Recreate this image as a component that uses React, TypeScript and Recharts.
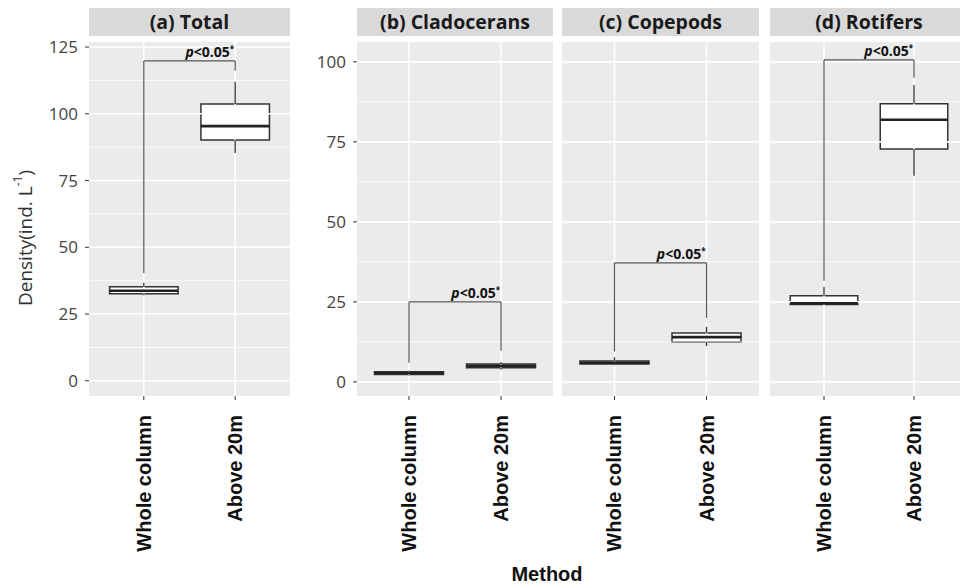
import {
  ComposedChart,
  ReferenceArea,
  ReferenceDot,
  ReferenceLine,
  Scatter,
  XAxis,
  YAxis,
} from "recharts";

// categories on the x axis of every panel
const CATEGORIES = ["Whole column", "Above 20m"];
const PANEL_TITLES = ["(a) Total", "(b) Cladocerans", "(c) Copepods", "(d) Rotifers"];

// box stats per category: [lower whisker, q1, median, q3, upper whisker]
const TOTAL_STATS = [
  [32.0, 32.6, 33.7, 35.2, 36.7],
  [85.3, 90.2, 95.4, 103.7, 111.9],
];
const CLADOCERAN_STATS = [
  [2.0, 2.3, 2.8, 3.2, 3.6],
  [3.8, 4.4, 5.0, 5.6, 6.2],
];
const COPEPOD_STATS = [
  [5.2, 5.6, 6.0, 6.5, 7.7],
  [11.2, 12.5, 14.0, 15.3, 17.2],
];
const ROTIFER_STATS = [
  [24.0, 24.2, 24.6, 26.9, 29.7],
  [64.4, 72.8, 81.9, 86.9, 92.8],
];

// significance brackets: top height, bottom of left leg, bottom of right leg
const BRACKET_TOP = [119.8, 25.0, 37.2, 100.6];
const BRACKET_LEFT_END = [40.4, 6.0, 9.5, 31.6];
const BRACKET_RIGHT_END = [116.2, 9.7, 20.0, 95.0];

const Y_TICKS_TOTAL = [0, 25, 50, 75, 100, 125];
const Y_TICKS_GROUP = [0, 25, 50, 75, 100];
const MINOR_TOTAL = [12.5, 37.5, 62.5, 87.5, 112.5];
const MINOR_GROUP = [12.5, 37.5, 62.5, 87.5];

const ALL_STATS = [TOTAL_STATS, CLADOCERAN_STATS, COPEPOD_STATS, ROTIFER_STATS];

const LAYOUT = [
  { left: 0, width: 300, mLeft: 39, mRight: 10, yWidth: 50, xDomain: [0.4, 2.6], yDomain: [-5.7, 126.9], yTicks: Y_TICKS_TOTAL, minor: MINOR_TOTAL, showY: true },
  { left: 300, width: 258, mLeft: 12, mRight: 5, yWidth: 45, xDomain: [0.435, 2.565], yDomain: [-4.4, 106.2], yTicks: Y_TICKS_GROUP, minor: MINOR_GROUP, showY: true },
  { left: 558, width: 206, mLeft: 4, mRight: 5, yWidth: 0, xDomain: [0.43, 2.57], yDomain: [-4.4, 106.2], yTicks: Y_TICKS_GROUP, minor: MINOR_GROUP, showY: false },
  { left: 764, width: 210, mLeft: 6, mRight: 6, yWidth: 0, xDomain: [0.4, 2.6], yDomain: [-4.4, 106.2], yTicks: Y_TICKS_GROUP, minor: MINOR_GROUP, showY: false },
];

const SANS = "'Open Sans', 'Noto Sans', sans-serif";
const ARIAL = "'Liberation Sans', Arial, sans-serif";
const HALF = 0.375;

function XTick(props: any) {
  const { x, y, payload } = props;
  return (
    <text
      transform={`translate(${x},${y}) rotate(-90)`}
      textAnchor="end"
      dominantBaseline="central"
      fontSize={20}
      fontWeight={700}
      fontFamily={ARIAL}
      fill="#111"
    >
      {CATEGORIES[payload.value - 1]}
    </text>
  );
}

function PLabel(props: any) {
  const { cx, cy } = props;
  return (
    <text x={cx - 1} y={cy - 4} textAnchor="end" fontSize={14} fontWeight={700} fontFamily={SANS} fill="#111">
      <tspan fontStyle="italic">p</tspan>
      <tspan>{"<0.05"}</tspan>
      <tspan fontSize={8} dy={-5}>*</tspan>
    </text>
  );
}

function Panel({ idx }: { idx: number }) {
  const lay = LAYOUT[idx];
  const stats = ALL_STATS[idx];
  const medians = stats.map((s, i) => ({ x: i + 1, y: s[2] }));
  const plotLeft = lay.mLeft + lay.yWidth;
  const plotWidth = lay.width - plotLeft - lay.mRight;
  const gridX = [1, 2];

  return (
    <div style={{ position: "absolute", left: lay.left, top: 0, width: lay.width, height: 585 }}>
      <ComposedChart
        width={lay.width}
        height={585}
        data={medians}
        margin={{ top: 42, right: lay.mRight, bottom: 39, left: lay.mLeft }}
      >
        <XAxis
          type="number"
          dataKey="x"
          domain={lay.xDomain}
          ticks={[1, 2]}
          interval={0}
          allowDataOverflow
          height={150}
          axisLine={false}
          tickLine={{ stroke: "#333" }}
          tickSize={4}
          tickMargin={15}
          tick={<XTick />}
        />
        <YAxis
          type="number"
          domain={lay.yDomain}
          ticks={lay.yTicks}
          interval={0}
          allowDataOverflow
          hide={!lay.showY}
          width={lay.yWidth}
          axisLine={false}
          tickLine={{ stroke: "#333" }}
          tickSize={4}
          tickMargin={7}
          tick={{ fontSize: 17, fill: "#444", fontFamily: SANS }}
        />
        <ReferenceArea
          x1={lay.xDomain[0]}
          x2={lay.xDomain[1]}
          y1={lay.yDomain[0]}
          y2={lay.yDomain[1]}
          fill="#ebebeb"
          fillOpacity={1}
          stroke="none"
          ifOverflow="extendDomain"
        />
        {lay.minor.map((v) => (
          <ReferenceLine key={`mn${v}`} y={v} stroke="#fff" strokeWidth={0.8} />
        ))}
        {lay.yTicks.map((v) => (
          <ReferenceLine key={`mj${v}`} y={v} stroke="#fff" strokeWidth={1.6} />
        ))}
        {gridX.map((v) => (
          <ReferenceLine key={`vx${v}`} x={v} stroke="#fff" strokeWidth={1.6} />
        ))}
        {stats.map((s, i) => (
          <ReferenceLine
            key={`wl${i}`}
            segment={[{ x: i + 1, y: s[0] }, { x: i + 1, y: s[1] }]}
            stroke="#333"
            strokeWidth={1.3}
          />
        ))}
        {stats.map((s, i) => (
          <ReferenceLine
            key={`wh${i}`}
            segment={[{ x: i + 1, y: s[3] }, { x: i + 1, y: s[4] }]}
            stroke="#333"
            strokeWidth={1.3}
          />
        ))}
        {stats.map((s, i) => (
          <ReferenceArea
            key={`bx${i}`}
            x1={i + 1 - HALF}
            x2={i + 1 + HALF}
            y1={s[1]}
            y2={s[3]}
            fill="#fff"
            fillOpacity={1}
            stroke="#333"
            strokeWidth={1.5}
          />
        ))}
        {stats.map((s, i) => (
          <ReferenceLine
            key={`md${i}`}
            segment={[{ x: i + 1 - HALF, y: s[2] }, { x: i + 1 + HALF, y: s[2] }]}
            stroke="#222"
            strokeWidth={2.6}
          />
        ))}
        <ReferenceLine
          segment={[{ x: 1, y: BRACKET_LEFT_END[idx] }, { x: 1, y: BRACKET_TOP[idx] }]}
          stroke="#555"
          strokeWidth={1.2}
        />
        <ReferenceLine
          segment={[{ x: 1, y: BRACKET_TOP[idx] }, { x: 2, y: BRACKET_TOP[idx] }]}
          stroke="#555"
          strokeWidth={1.2}
        />
        <ReferenceLine
          segment={[{ x: 2, y: BRACKET_TOP[idx] }, { x: 2, y: BRACKET_RIGHT_END[idx] }]}
          stroke="#555"
          strokeWidth={1.2}
        />
        <ReferenceDot x={2} y={BRACKET_TOP[idx]} shape={<PLabel />} />
        <Scatter dataKey="y" shape={() => <g />} isAnimationActive={false} />
      </ComposedChart>
      <div
        style={{
          position: "absolute",
          left: plotLeft,
          top: 8,
          width: plotWidth,
          height: 28,
          background: "#d9d9d9",
          color: "#1a1a1a",
          fontFamily: SANS,
          fontWeight: 700,
          fontSize: 19.5,
          lineHeight: "28px",
          textAlign: "center",
          whiteSpace: "nowrap",
        }}
      >
        {PANEL_TITLES[idx]}
      </div>
    </div>
  );
}

export default function App() {
  return (
    <div
      style={{
        position: "absolute",
        left: 0,
        top: 0,
        width: 960,
        height: 585,
        overflow: "hidden",
        background: "#fff",
      }}
    >
      {PANEL_TITLES.map((_, i) => (
        <Panel key={i} idx={i} />
      ))}
      <svg width={960} height={585} style={{ position: "absolute", left: 0, top: 0, pointerEvents: "none" }}>
        <text
          transform="translate(25,238) rotate(-90)"
          textAnchor="middle"
          dominantBaseline="central"
          fontSize={19}
          fontFamily={SANS}
          fill="#333"
        >
          Density(ind. L<tspan fontSize={12} dy={-8}>-1</tspan>
          <tspan dy={8}>)</tspan>
        </text>
        <text x={547} y={581} textAnchor="middle" fontSize={20} fontWeight={700} fontFamily={ARIAL} fill="#111">
          Method
        </text>
      </svg>
    </div>
  );
}
